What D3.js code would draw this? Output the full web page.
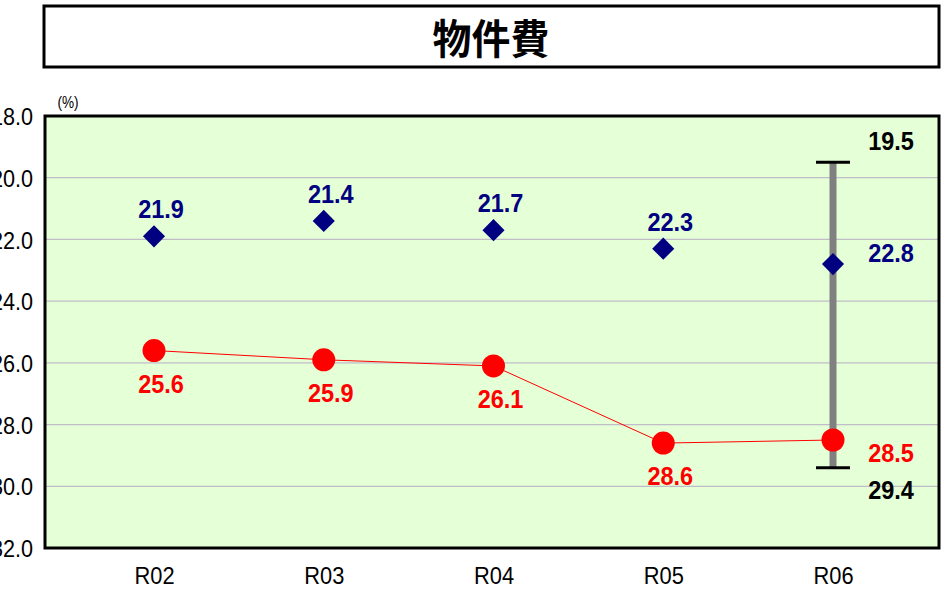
<!DOCTYPE html>
<html><head><meta charset="utf-8">
<script src="https://cdn.jsdelivr.net/npm/d3@7/dist/d3.min.js"></script>
<style>body{margin:0;background:#fff;}svg{display:block;}</style>
</head><body>
<svg id="c" width="948" height="595"></svg>
<script>
const title = "物件費";
const categories = ["R02","R03","R04","R05","R06"];
const navyValues = [21.9, 21.4, 21.7, 22.3, 22.8];
const redValues = [25.6, 25.9, 26.1, 28.6, 28.5];
const rangeCategory = "R06";
const rangeMin = 19.5;
const rangeMax = 29.4;
const yTicks = [18, 20, 22, 24, 26, 28, 30, 32];
const unitLabel = "(%)";

const svg = d3.select("#c");
const L = 45, R = 939, T = 116, B = 548;
const x = d3.scalePoint().domain(categories).range([154, 833]);
const y = d3.scaleLinear().domain([18, 32]).range([T, B]);
const fam = "'Liberation Sans',Arial,sans-serif";

function label(g, tx, ty, str, opts) {
  const sx = opts.sx || 0.94;
  return g.append("text")
    .attr("transform", `translate(${tx},${ty}) scale(${sx},1)`)
    .attr("text-anchor", opts.anchor || "middle")
    .attr("font-family", opts.family || fam)
    .attr("font-weight", opts.weight || "bold")
    .attr("font-size", opts.size || 25)
    .attr("fill", opts.fill || "#000")
    .text(str);
}

// title box
svg.append("rect").attr("x",44).attr("y",6).attr("width",895).attr("height",61)
  .attr("fill","#fff").attr("stroke","#000").attr("stroke-width",3);
label(svg, 491, 54, title, {family:"'Noto Sans CJK JP',sans-serif", size:41, sx:0.95});

// plot background
svg.append("rect").attr("x",L).attr("y",T).attr("width",R-L).attr("height",B-T).attr("fill","#E5FFD7");

// grid
svg.append("g").selectAll("line").data(yTicks.slice(1,-1)).join("line")
  .attr("x1",L).attr("x2",R).attr("y1",d=>y(d)).attr("y2",d=>y(d))
  .attr("stroke","#C0BCC8").attr("stroke-width",1.2);

// y axis labels
const ysx = 0.9;
const yAxis = d3.axisLeft(y).tickValues(yTicks).tickFormat(d3.format(".1f")).tickSize(0).tickPadding(12);
const ga = svg.append("g").attr("transform",`translate(${L},0)`).call(yAxis);
ga.select(".domain").remove();
ga.selectAll("text").attr("font-family",fam).attr("font-size",24).attr("fill","#000")
  .attr("x", -12/ysx).attr("dy","0.36em").attr("transform",`scale(${ysx},1)`);

// x axis labels
const xsx = 0.91;
const xAxis = d3.axisBottom(x).tickSize(0).tickPadding(0);
const gx = svg.append("g").attr("transform",`translate(0,${B})`).call(xAxis);
gx.select(".domain").remove();
gx.selectAll("text").attr("font-family",fam).attr("font-size",24).attr("fill","#000")
  .attr("y", 36).attr("dy", 0).attr("transform",`scale(${xsx},1)`);

label(svg, 68, 108, unitLabel, {size:16, weight:"normal", sx:0.85});

// plot border
svg.append("rect").attr("x",L).attr("y",T).attr("width",R-L).attr("height",B-T)
  .attr("fill","none").attr("stroke","#000").attr("stroke-width",3);

// range bar
const rx = x(rangeCategory);
svg.append("line").attr("x1",rx).attr("x2",rx).attr("y1",y(rangeMin)).attr("y2",y(rangeMax))
  .attr("stroke","#808080").attr("stroke-width",7);
[rangeMin, rangeMax].forEach(v=>{
  svg.append("line").attr("x1",rx-17).attr("x2",rx+17).attr("y1",y(v)).attr("y2",y(v))
    .attr("stroke","#000").attr("stroke-width",3);
});
label(svg, rx+58, y(rangeMin)-12, rangeMin.toFixed(1), {fill:"#000"});
label(svg, rx+58, y(rangeMax)+31, rangeMax.toFixed(1), {fill:"#000"});

// red line
const line = d3.line().x((d,i)=>x(categories[i])).y(d=>y(d));
svg.append("path").datum(redValues).attr("d",line).attr("fill","none").attr("stroke","#FF0000").attr("stroke-width",1);

// red circles
svg.append("g").selectAll("circle").data(redValues).join("circle")
  .attr("cx",(d,i)=>x(categories[i])).attr("cy",d=>y(d)).attr("r",11.5).attr("fill","#FF0000");

// navy diamonds
const diamond = d3.symbol().type(d3.symbolDiamond2).size(312);
svg.append("g").selectAll("path").data(navyValues).join("path")
  .attr("d",diamond).attr("transform",(d,i)=>`translate(${x(categories[i])},${y(d)})`)
  .attr("fill","#000080");

// value labels
const gl = svg.append("g");
navyValues.forEach((d,i)=>{
  const last = categories[i]===rangeCategory;
  label(gl, last ? x(categories[i])+58 : x(categories[i])+7, last ? y(d)-2 : y(d)-18, d.toFixed(1), {fill:"#000080"});
});
redValues.forEach((d,i)=>{
  const last = categories[i]===rangeCategory;
  label(gl, last ? x(categories[i])+58 : x(categories[i])+7, last ? y(d)+22 : y(d)+42, d.toFixed(1), {fill:"#FF0000"});
});
</script>
</body></html>
